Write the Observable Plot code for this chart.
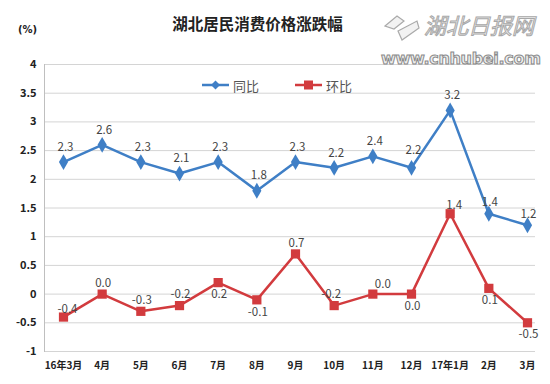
<!DOCTYPE html>
<html><head><meta charset="utf-8">
<script src="https://cdn.jsdelivr.net/npm/d3@7"></script>
<script src="https://cdn.jsdelivr.net/npm/@observablehq/plot@0.6"></script>
<style>
body{margin:0;background:#fff;font-family:"Noto Sans CJK SC","Noto Sans",sans-serif;}
#wrap{position:relative;width:550px;height:384px;overflow:hidden;}
#wrap svg.plot{position:absolute;left:0;top:0;}
.abs{position:absolute;white-space:nowrap;}
.leg{display:flex;align-items:center;}
</style></head>
<body><div id="wrap"></div>
<script>
const months = ["16年3月","4月","5月","6月","7月","8月","9月","10月","11月","12月","17年1月","2月","3月"];
const yoy = [2.3, 2.6, 2.3, 2.1, 2.3, 1.8, 2.3, 2.2, 2.4, 2.2, 3.2, 1.4, 1.2];
const mom = [-0.4, 0.0, -0.3, -0.2, 0.2, -0.1, 0.7, -0.2, 0.0, 0.0, 1.4, 0.1, -0.5];
const yTicks = [-1, -0.5, 0, 0.5, 1, 1.5, 2, 2.5, 3, 3.5, 4];
const seriesNames = ["同比", "环比"];
const titleText = "湖北居民消费价格涨跌幅";
const unitText = "(%)";

const blue = "#3f7fc6", red = "#d23b3e";
const yoyData = months.map((m, i) => ({m, v: yoy[i], i}));
const momData = months.map((m, i) => ({m, v: mom[i], i}));
const fmt = v => v.toFixed(1);
// label placement (style, not data)
const yoyLow = new Set([11, 12]);
const momAbove = new Set([1, 2, 3, 6]);
const momBelow = new Set([4, 5, 9, 11, 12]);

const chart = Plot.plot({
  width: 550, height: 384,
  marginLeft: 44, marginRight: 15, marginTop: 64, marginBottom: 33,
  className: "plot",
  style: {fontFamily: '"Noto Sans CJK SC","Noto Sans",sans-serif', background: "transparent"},
  x: {type: "point", domain: months, padding: 0, round: false, insetLeft: 19, insetRight: 8, label: null},
  y: {domain: [-1, 4], label: null},
  marks: [
    Plot.gridY(yTicks, {stroke: "#d4d4d4", strokeOpacity: 1, strokeWidth: 1}),
    Plot.frame({anchor: "left", stroke: "#bfbfbf"}),
    Plot.axisY({ticks: yTicks, tickSize: 0, tickPadding: 8, label: null, tickFormat: d => String(d), fontWeight: "bold", fontSize: 11, fill: "#222"}),
    Plot.axisX({tickSize: 0, tickPadding: 10, label: null, fontWeight: "bold", fontSize: 10, fill: "#222"}),
    Plot.line(yoyData, {x: "m", y: "v", stroke: blue, strokeWidth: 2.5}),
    Plot.dot(yoyData, {x: "m", y: "v", symbol: "diamond", fill: blue, r: 4.8}),
    Plot.line(momData, {x: "m", y: "v", stroke: red, strokeWidth: 2.5}),
    Plot.dot(momData, {x: "m", y: "v", symbol: "square", fill: red, r: 5.2}),
    Plot.text(yoyData.filter(d => !yoyLow.has(d.i) && d.i !== 9), {x: "m", y: "v", text: d => fmt(d.v), dy: -15, dx: 2, fontSize: 11.5, fill: "#444"}),
    Plot.text(yoyData.filter(d => d.i === 9), {x: "m", y: "v", text: d => fmt(d.v), dy: -18, dx: 2, fontSize: 11.5, fill: "#444"}),
    Plot.text(yoyData.filter(d => yoyLow.has(d.i)), {x: "m", y: "v", text: d => fmt(d.v), dy: -11, dx: 1, fontSize: 11.5, fill: "#444"}),
    Plot.text(momData.filter(d => momAbove.has(d.i)), {x: "m", y: "v", text: d => fmt(d.v), dy: -11, dx: 1, fontSize: 11.5, fill: "#444"}),
    Plot.text(momData.filter(d => d.i === 8), {x: "m", y: "v", text: d => fmt(d.v), dy: -10, dx: 10, fontSize: 11.5, fill: "#444"}),
    Plot.text(momData.filter(d => d.i === 0 || d.i === 10), {x: "m", y: "v", text: d => fmt(d.v), dy: -8, dx: 4, fontSize: 11.5, fill: "#444"}),
    Plot.text(momData.filter(d => d.i === 7), {x: "m", y: "v", text: d => fmt(d.v), dy: -11, dx: -3, fontSize: 11.5, fill: "#444"}),
    Plot.text(momData.filter(d => momBelow.has(d.i)), {x: "m", y: "v", text: d => fmt(d.v), dy: 12, dx: 1, fontSize: 11.5, fill: "#444"})
  ]
});
const wrap = document.getElementById("wrap");
wrap.appendChild(chart);

function add(html, css, cls) {
  const d = document.createElement("div");
  d.className = "abs" + (cls ? " " + cls : "");
  d.innerHTML = html;
  Object.assign(d.style, css);
  wrap.appendChild(d);
  return d;
}
// watermark
add('<svg width="40" height="34"><path d="M3 14 L15 4 L22 9 L12 17 Z M16 19 L35 9 L37 16 L20 28 Z" fill="#f2f2f2" stroke="#aaa" stroke-width="1.2"/></svg>', {left: "382px", top: "12px"});
add("湖北日报网", {left: "424px", top: "10px", fontSize: "22px", lineHeight: "28px", color: "#f4f4f4", webkitTextStroke: "1px #a8a8a8", fontStyle: "italic"});
add("www.cnhubei.com", {left: "381px", top: "49px", fontSize: "16px", lineHeight: "20px", fontWeight: "bold", color: "#eeeeee", webkitTextStroke: "1px #8a8a8a", fontFamily: '"DejaVu Sans",sans-serif', letterSpacing: "-0.3px"});
// title
add(titleText, {left: "165px", width: "185px", textAlign: "center", top: "12px", fontSize: "15.5px", fontWeight: "bold", color: "#222"});
add(unitText, {left: "18px", top: "24px", fontSize: "10px", fontWeight: "bold", color: "#222", fontFamily: '"DejaVu Sans",sans-serif'});
// legend
add(`<svg width="28" height="10"><line x1="0" y1="5" x2="27" y2="5" stroke="${blue}" stroke-width="2.5"/><path d="M13.5 0.5 L18 5 L13.5 9.5 L9 5 Z" fill="${blue}"/></svg><span style="margin-left:3px">${seriesNames[0]}</span>`,
  {left: "202px", top: "76px", height: "18px", fontSize: "13px", color: "#555"}, "leg");
add(`<svg width="28" height="10"><line x1="0" y1="5" x2="27" y2="5" stroke="${red}" stroke-width="2.5"/><rect x="9" y="0.5" width="9" height="9" fill="${red}"/></svg><span style="margin-left:3px">${seriesNames[1]}</span>`,
  {left: "295px", top: "76px", height: "18px", fontSize: "13px", color: "#555"}, "leg");
</script></body></html>
